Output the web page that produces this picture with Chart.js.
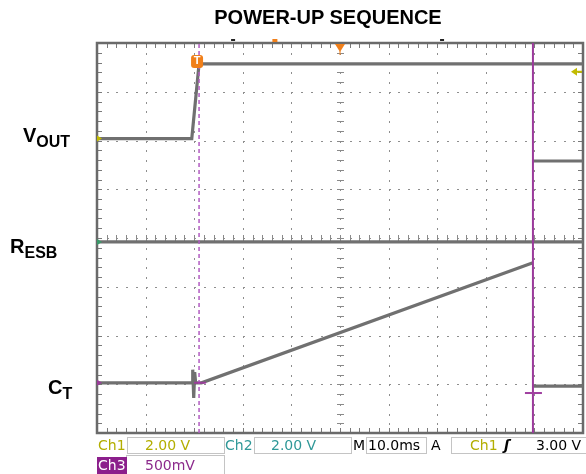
<!DOCTYPE html>
<html lang="en">
<head>
<meta charset="UTF-8">
<title>Power-up sequence</title>
<script src="https://cdn.jsdelivr.net/npm/chart.js"></script>
<style>
  body { margin: 0; background: #fff; font-family: "Liberation Sans", Arial, sans-serif; }
  #wrap { position: relative; width: 586px; height: 474px; overflow: hidden; }
  canvas { position: absolute; left: 0; top: 0; }
  .t { position: absolute; white-space: nowrap; line-height: 1; }
  .title { left: 0; width: 656px; top: 7px; text-align: center; font-weight: bold; font-size: 20px; color: #000; }
  .sig { font-weight: bold; font-size: 20px; color: #000; }
  .sig sub { font-size: 16px; vertical-align: -5px; }
  .ro { position: absolute; font-family: "DejaVu Sans", sans-serif; font-size: 14px; line-height: 17px; white-space: nowrap; }
  .box { position: absolute; height: 17px; border: 1px solid #c4c4c4; box-sizing: border-box; }
  .c1 { color: #b3ae00; }
  .c2 { color: #2f9898; }
  .c3 { color: #8c2a8c; }
</style>
</head>
<body>
<div id="wrap">
  <canvas id="chart" width="586" height="474"></canvas>

  <div class="t title">POWER-UP SEQUENCE</div>
  <div class="t sig" style="left:23px; top:125px;">V<sub>OUT</sub></div>
  <div class="t sig" style="left:10px; top:236px;">R<sub>ESB</sub></div>
  <div class="t sig" style="left:48px; top:377px;">C<sub>T</sub></div>

  <div class="box" style="left:127px; top:437px; width:98px;"></div>
  <div class="box" style="left:254px; top:437px; width:98px;"></div>
  <div class="box" style="left:366px; top:437px; width:61px;"></div>
  <div class="box" style="left:451px; top:437px; width:136px;"></div>
  <div class="box" style="left:126px; top:455px; width:99px; height:20px;"></div>

  <div class="ro c1" style="left:98px; top:437px;">Ch1</div>
  <div class="ro c1" style="left:145px; top:437px;">2.00 V</div>
  <div class="ro c2" style="left:225px; top:437px;">Ch2</div>
  <div class="ro c2" style="left:271px; top:437px;">2.00 V</div>
  <div class="ro" style="left:353px; top:437px;">M</div>
  <div class="ro" style="left:368px; top:437px;">10.0ms</div>
  <div class="ro" style="left:431px; top:437px;">A</div>
  <div class="ro c1" style="left:470px; top:437px;">Ch1</div>
  <div class="ro" style="left:504px; top:437px; font-style:italic; font-weight:bold;">ʃ</div>
  <div class="ro" style="left:536px; top:437px;">3.00 V</div>
  <div class="ro" style="left:97px; top:457px; background:#8c1f8c; color:#fff; padding:0 1px;">Ch3</div>
  <div class="ro c3" style="left:145px; top:457px;">500mV</div>
</div>

<script>
// time axis in ms (10 ms/div), vertical axis in screen divisions from the bottom
const msPerDiv = 10;
const xDivs = 10;
const yDivs = 8;

const vOutTime = [0, 19.5, 21.0, 100];
const vOutLevel = [6.04, 6.04, 7.57, 7.57];

const resbTime = [0, 100];
const resbLevel = [3.92, 3.92];
const resbHighTime = [89.7, 100];
const resbHighLevel = [5.58, 5.58];

const ctTime = [0, 19.6, 19.7, 19.9, 20.1, 20.3, 21.5, 89.7];
const ctLevel = [1.03, 1.03, 1.3, 0.72, 1.25, 1.03, 1.03, 3.49];
const ctAfterTime = [89.7, 100];
const ctAfterLevel = [0.96, 0.96];

const cursorDashed = 21.0;
const cursorSolid = 89.7;
const triggerLevel = 7.41;   // ch1 trigger arrow on right edge
const ctCursorLevel = 0.82;  // small ch3 cursor tick

function pts(xs, ys) {
  return xs.map((v, i) => ({ x: v, y: ys[i] }));
}

const traceColor = '#707070';

function trace(xs, ys) {
  return {
    data: pts(xs, ys),
    borderColor: traceColor,
    borderWidth: 3.2,
    pointRadius: 0,
    tension: 0,
    fill: false,
    order: 2
  };
}

const scopeGrid = {
  id: 'scopeGrid',
  beforeDatasetsDraw(chart) {
    const { ctx, chartArea: a, scales: { x, y } } = chart;
    ctx.save();
    ctx.fillStyle = '#8e8e8e';
    // dotted major lines
    for (let i = 1; i < xDivs; i++) {
      const px = Math.round(x.getPixelForValue(i * msPerDiv));
      for (let j = 1; j < yDivs * 5; j++) {
        const py = Math.round(y.getPixelForValue(j / 5));
        ctx.fillRect(px, py, 1, 2);
      }
    }
    for (let j = 1; j < yDivs; j++) {
      const py = Math.round(y.getPixelForValue(j));
      for (let i = 1; i < xDivs * 5; i++) {
        const px = Math.round(x.getPixelForValue(i * msPerDiv / 5));
        ctx.fillRect(px, py, 2, 1);
      }
    }
    // centre cross ticks
    ctx.fillStyle = '#8a8a8a';
    const cx = Math.round(x.getPixelForValue(xDivs / 2 * msPerDiv));
    const cy = Math.round(y.getPixelForValue(yDivs / 2));
    for (let j = 1; j < yDivs * 5; j++) {
      const py = Math.round(y.getPixelForValue(j / 5));
      ctx.fillRect(cx - 3, py, 7, 1);
    }
    for (let i = 1; i < xDivs * 5; i++) {
      const px = Math.round(x.getPixelForValue(i * msPerDiv / 5));
      ctx.fillRect(px, cy - 3, 1, 7);
    }
    // border with inward ticks
    ctx.fillStyle = '#7a7a7a';
    for (let i = 1; i < xDivs * 5; i++) {
      const px = Math.round(x.getPixelForValue(i * msPerDiv / 5));
      ctx.fillRect(px, a.top, 1, 5);
      ctx.fillRect(px, a.bottom - 5, 1, 5);
    }
    for (let j = 1; j < yDivs * 5; j++) {
      const py = Math.round(y.getPixelForValue(j / 5));
      ctx.fillRect(a.left, py, 5, 1);
      ctx.fillRect(a.right - 5, py, 5, 1);
    }
    ctx.strokeStyle = '#6a6a6a';
    ctx.lineWidth = 2.5;
    ctx.strokeRect(a.left, a.top, a.right - a.left, a.bottom - a.top);
    ctx.restore();
  },
  afterDatasetsDraw(chart) {
    const { ctx, chartArea: a, scales: { x, y } } = chart;
    ctx.save();
    // trigger position triangle at top centre
    const cx = x.getPixelForValue(xDivs / 2 * msPerDiv);
    ctx.fillStyle = '#f07f1a';
    ctx.beginPath();
    ctx.moveTo(cx - 5, a.top + 1);
    ctx.lineTo(cx + 5, a.top + 1);
    ctx.lineTo(cx, a.top + 9);
    ctx.closePath();
    ctx.fill();
    ctx.fillRect(cx - 0.5, a.top + 8, 1, 4);
    ctx.fillRect(x.getPixelForValue(36.5) - 2, a.top - 4, 5, 3);
    ctx.fillStyle = '#222';
    ctx.fillRect(x.getPixelForValue(28.0) - 2, a.top - 4, 4, 2);
    ctx.fillRect(x.getPixelForValue(71.0) - 2, a.top - 4, 4, 2);

    // "T" trigger badge
    const tx = x.getPixelForValue(cursorDashed) - 2;
    const ty = y.getPixelForValue(7.57);
    ctx.fillStyle = '#f07f1a';
    ctx.beginPath();
    ctx.roundRect(tx - 6, ty - 9, 12, 13, 3);
    ctx.fill();
    ctx.fillStyle = '#fff';
    ctx.font = 'bold 11px "Liberation Sans", Arial, sans-serif';
    ctx.textAlign = 'center';
    ctx.textBaseline = 'middle';
    ctx.fillText('T', tx, ty - 2.5);

    // ch1 trigger level arrow (right edge)
    const ay = y.getPixelForValue(triggerLevel);
    ctx.fillStyle = '#c2bb00';
    ctx.beginPath();
    ctx.moveTo(a.right - 12, ay);
    ctx.lineTo(a.right - 6, ay - 4);
    ctx.lineTo(a.right - 6, ay + 4);
    ctx.closePath();
    ctx.fill();
    ctx.fillRect(a.right - 7, ay - 1, 6, 2);

    // channel ground markers on the left edge
    const marks = [[vOutLevel[0], '#c2bb00'], [resbLevel[0], '#3a9a6a'], [ctLevel[0], '#9a3d9a']];
    marks.forEach(([lv, col]) => {
      const my = y.getPixelForValue(lv);
      ctx.fillStyle = col;
      ctx.beginPath();
      ctx.moveTo(a.left + 5, my);
      ctx.lineTo(a.left, my - 3);
      ctx.lineTo(a.left, my + 3);
      ctx.closePath();
      ctx.fill();
    });

    // small ch3 cursor ticks
    ctx.fillStyle = '#a040a0';
    const sx = x.getPixelForValue(cursorSolid);
    ctx.fillRect(sx - 8, y.getPixelForValue(ctCursorLevel) - 1, 17, 2);
    const dx = x.getPixelForValue(cursorDashed);
    ctx.fillStyle = 'rgba(170,40,170,0.7)';
    ctx.fillRect(dx - 5, y.getPixelForValue(ctLevel[0]) - 1, 12, 2);
    ctx.restore();
  }
};

new Chart(document.getElementById('chart'), {
  type: 'line',
  data: {
    datasets: [
      {
        data: pts([cursorSolid, cursorSolid], [0, yDivs]),
        borderColor: '#9b3a9b',
        borderWidth: 2,
        pointRadius: 0,
        order: 1
      },
      {
        data: pts([cursorDashed, cursorDashed], [0, yDivs]),
        borderColor: '#b25cc2',
        borderWidth: 1.5,
        borderDash: [4, 3],
        pointRadius: 0,
        order: 1
      },
      trace(vOutTime, vOutLevel),
      trace(resbTime, resbLevel),
      trace(resbHighTime, resbHighLevel),
      trace(ctTime, ctLevel),
      trace(ctAfterTime, ctAfterLevel)
    ]
  },
  options: {
    responsive: false,
    animation: false,
    layout: { padding: { left: 97, top: 43, right: 3, bottom: 41 } },
    plugins: { legend: { display: false }, tooltip: { enabled: false }, title: { display: false } },
    scales: {
      x: { type: 'linear', min: 0, max: xDivs * msPerDiv, display: false },
      y: { type: 'linear', min: 0, max: yDivs, display: false }
    }
  },
  plugins: [scopeGrid]
});
</script>
</body>
</html>
